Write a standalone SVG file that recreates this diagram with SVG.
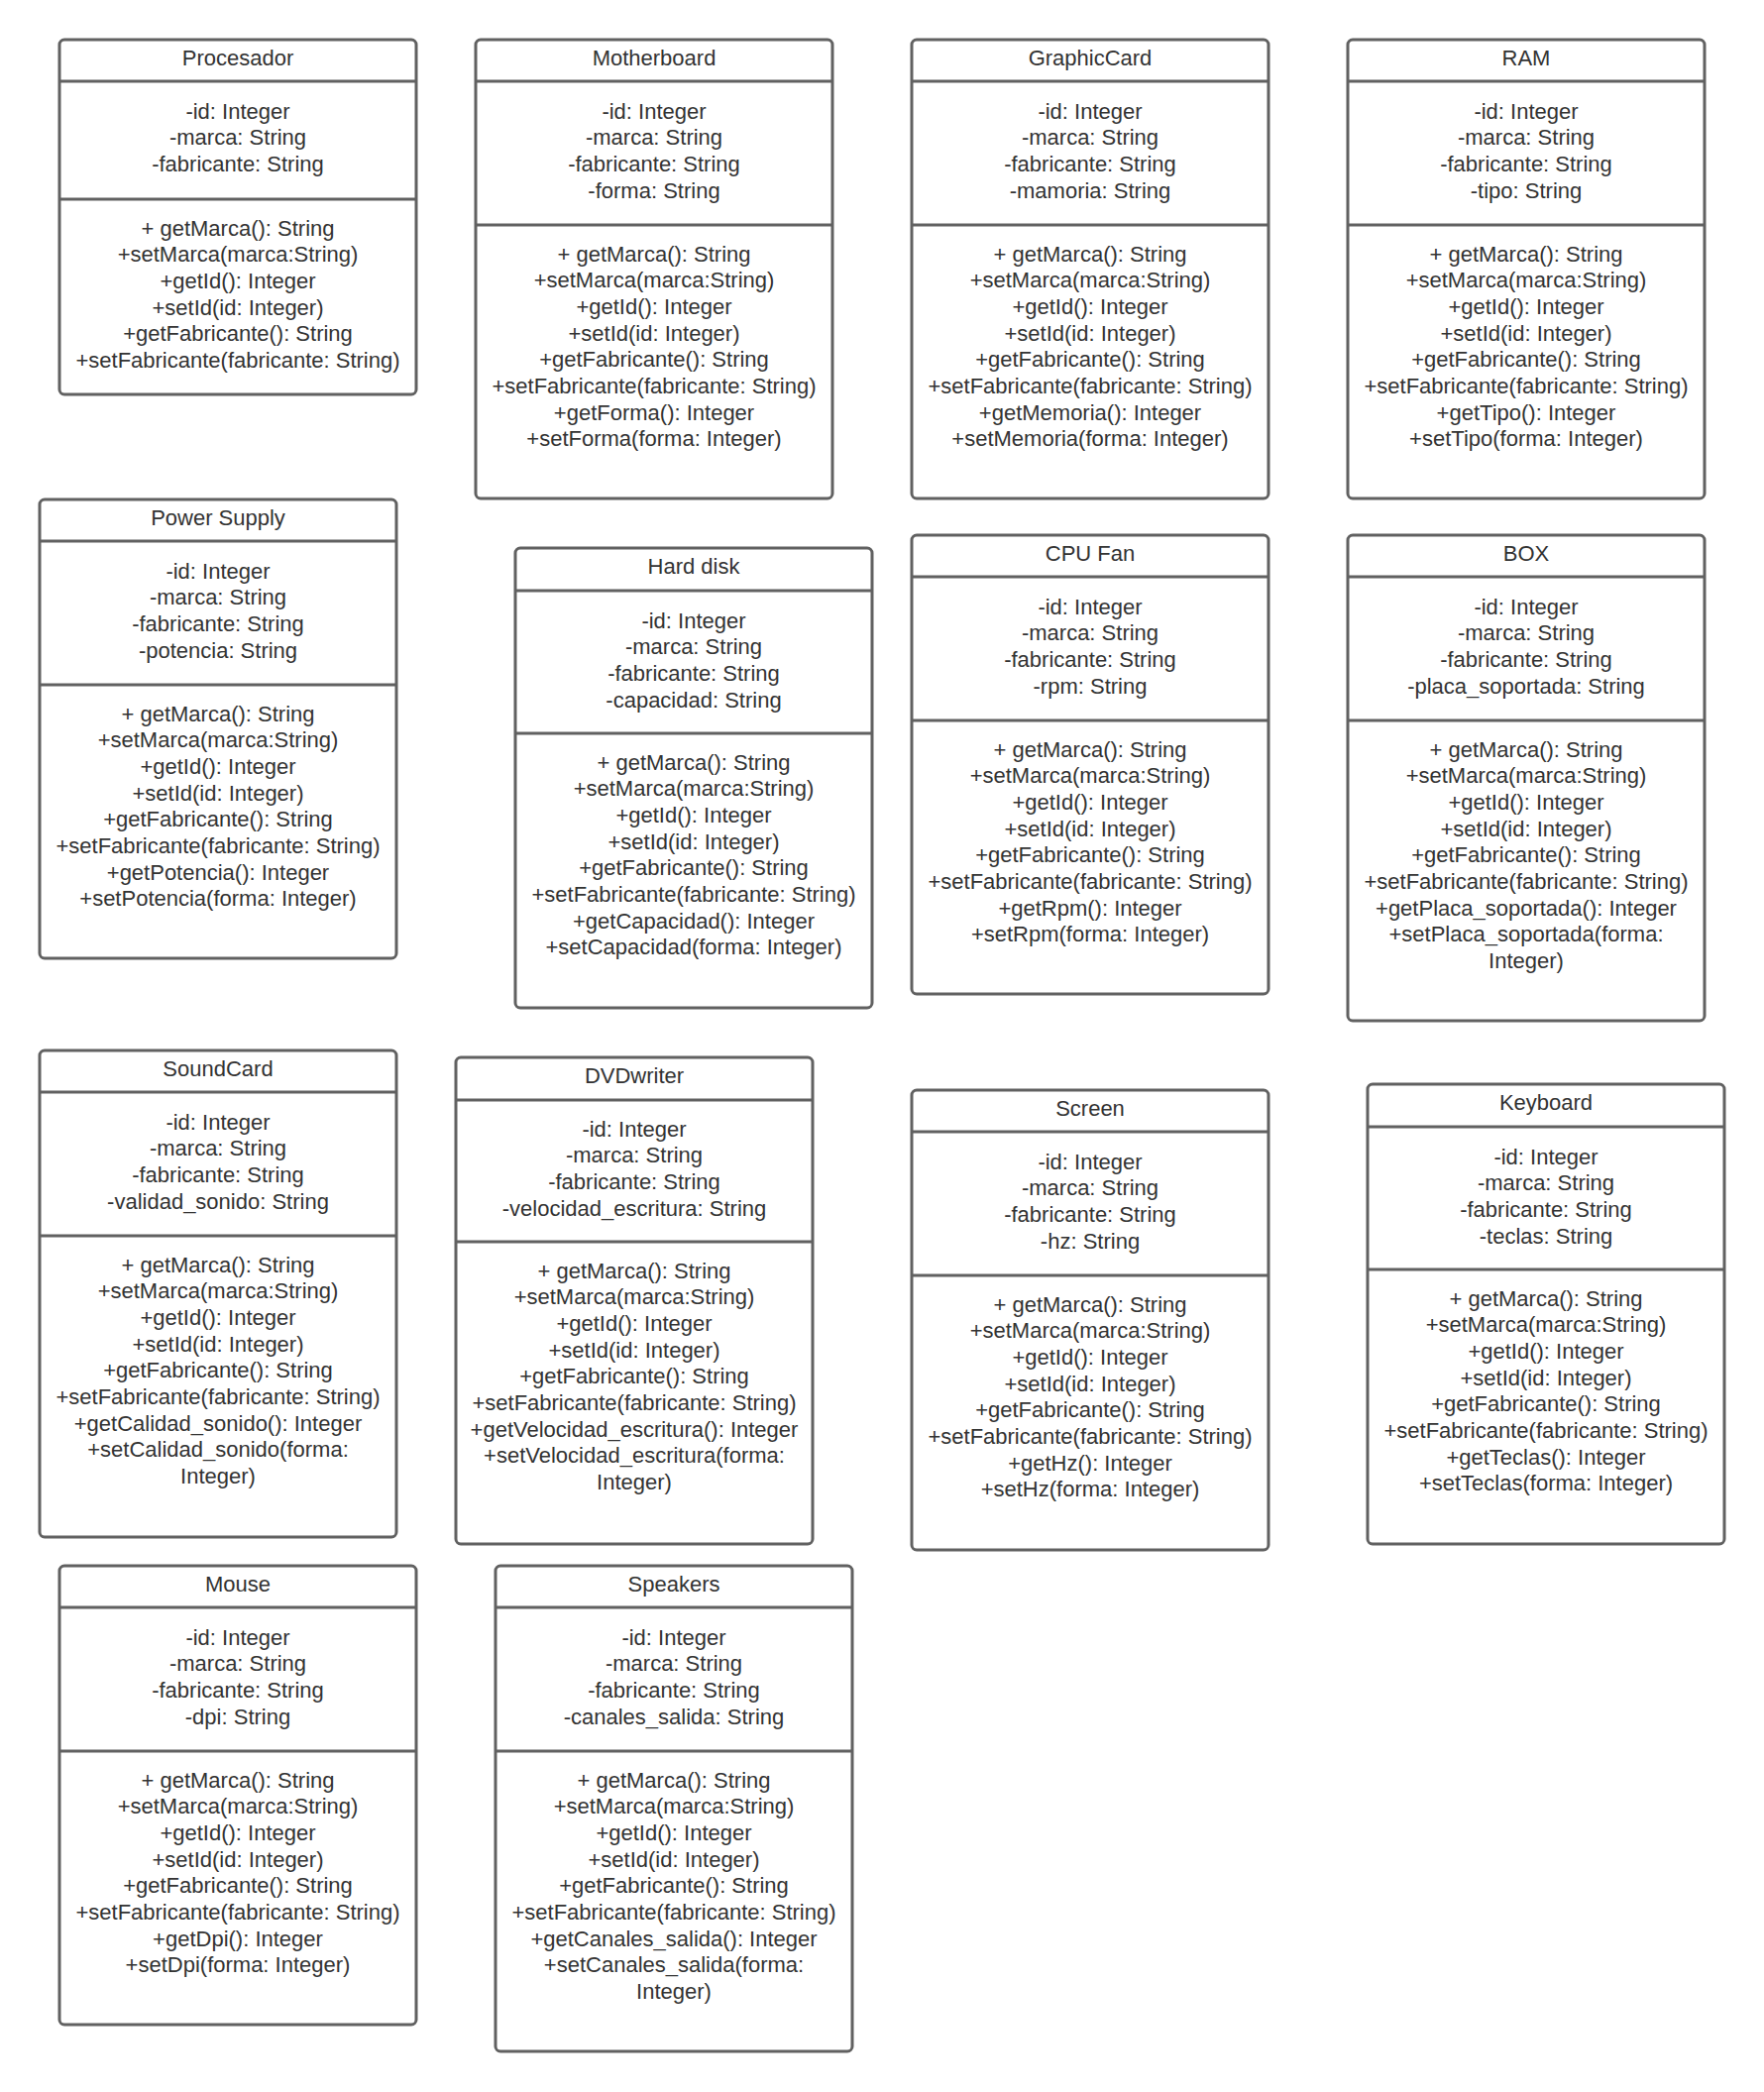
<svg xmlns="http://www.w3.org/2000/svg" width="1780" height="2111" viewBox="0 0 1780 2111">
<style>
.box{fill:#ffffff;stroke:#616161;stroke-width:3}
.sep{stroke:#616161;stroke-width:3}
text{font-family:"Liberation Sans",Arial,sans-serif;font-size:22px;fill:#333333;text-anchor:middle}
</style>
<rect x="0" y="0" width="1780" height="2111" fill="#ffffff"/>
<g id="connectors"></g>

<g id="procesador">
<rect class="box" x="60" y="40" width="360" height="358" rx="5"/>
<line class="sep" x1="60" y1="82" x2="420" y2="82"/>
<line class="sep" x1="60" y1="201" x2="420" y2="201"/>
<text x="240" y="65.5">Procesador</text>
<text x="240" y="119.5"><tspan x="240">-id: Integer</tspan><tspan x="240" dy="26.67">-marca: String</tspan><tspan x="240" dy="26.67">-fabricante: String</tspan></text>
<text x="240" y="237.5"><tspan x="240">+ getMarca(): String</tspan><tspan x="240" dy="26.67">+setMarca(marca:String)</tspan><tspan x="240" dy="26.67">+getId(): Integer</tspan><tspan x="240" dy="26.67">+setId(id: Integer)</tspan><tspan x="240" dy="26.67">+getFabricante(): String</tspan><tspan x="240" dy="26.67">+setFabricante(fabricante: String)</tspan></text>
</g>

<g id="motherboard">
<rect class="box" x="480" y="40" width="360" height="463" rx="5"/>
<line class="sep" x1="480" y1="82" x2="840" y2="82"/>
<line class="sep" x1="480" y1="227" x2="840" y2="227"/>
<text x="660" y="65.5">Motherboard</text>
<text x="660" y="119.5"><tspan x="660">-id: Integer</tspan><tspan x="660" dy="26.67">-marca: String</tspan><tspan x="660" dy="26.67">-fabricante: String</tspan><tspan x="660" dy="26.67">-forma: String</tspan></text>
<text x="660" y="263.5"><tspan x="660">+ getMarca(): String</tspan><tspan x="660" dy="26.67">+setMarca(marca:String)</tspan><tspan x="660" dy="26.67">+getId(): Integer</tspan><tspan x="660" dy="26.67">+setId(id: Integer)</tspan><tspan x="660" dy="26.67">+getFabricante(): String</tspan><tspan x="660" dy="26.67">+setFabricante(fabricante: String)</tspan><tspan x="660" dy="26.67">+getForma(): Integer</tspan><tspan x="660" dy="26.67">+setForma(forma: Integer)</tspan></text>
</g>

<g id="graphiccard">
<rect class="box" x="920" y="40" width="360" height="463" rx="5"/>
<line class="sep" x1="920" y1="82" x2="1280" y2="82"/>
<line class="sep" x1="920" y1="227" x2="1280" y2="227"/>
<text x="1100" y="65.5">GraphicCard</text>
<text x="1100" y="119.5"><tspan x="1100">-id: Integer</tspan><tspan x="1100" dy="26.67">-marca: String</tspan><tspan x="1100" dy="26.67">-fabricante: String</tspan><tspan x="1100" dy="26.67">-mamoria: String</tspan></text>
<text x="1100" y="263.5"><tspan x="1100">+ getMarca(): String</tspan><tspan x="1100" dy="26.67">+setMarca(marca:String)</tspan><tspan x="1100" dy="26.67">+getId(): Integer</tspan><tspan x="1100" dy="26.67">+setId(id: Integer)</tspan><tspan x="1100" dy="26.67">+getFabricante(): String</tspan><tspan x="1100" dy="26.67">+setFabricante(fabricante: String)</tspan><tspan x="1100" dy="26.67">+getMemoria(): Integer</tspan><tspan x="1100" dy="26.67">+setMemoria(forma: Integer)</tspan></text>
</g>

<g id="ram">
<rect class="box" x="1360" y="40" width="360" height="463" rx="5"/>
<line class="sep" x1="1360" y1="82" x2="1720" y2="82"/>
<line class="sep" x1="1360" y1="227" x2="1720" y2="227"/>
<text x="1540" y="65.5">RAM</text>
<text x="1540" y="119.5"><tspan x="1540">-id: Integer</tspan><tspan x="1540" dy="26.67">-marca: String</tspan><tspan x="1540" dy="26.67">-fabricante: String</tspan><tspan x="1540" dy="26.67">-tipo: String</tspan></text>
<text x="1540" y="263.5"><tspan x="1540">+ getMarca(): String</tspan><tspan x="1540" dy="26.67">+setMarca(marca:String)</tspan><tspan x="1540" dy="26.67">+getId(): Integer</tspan><tspan x="1540" dy="26.67">+setId(id: Integer)</tspan><tspan x="1540" dy="26.67">+getFabricante(): String</tspan><tspan x="1540" dy="26.67">+setFabricante(fabricante: String)</tspan><tspan x="1540" dy="26.67">+getTipo(): Integer</tspan><tspan x="1540" dy="26.67">+setTipo(forma: Integer)</tspan></text>
</g>

<g id="power-supply">
<rect class="box" x="40" y="504" width="360" height="463" rx="5"/>
<line class="sep" x1="40" y1="546" x2="400" y2="546"/>
<line class="sep" x1="40" y1="691" x2="400" y2="691"/>
<text x="220" y="529.5">Power Supply</text>
<text x="220" y="583.5"><tspan x="220">-id: Integer</tspan><tspan x="220" dy="26.67">-marca: String</tspan><tspan x="220" dy="26.67">-fabricante: String</tspan><tspan x="220" dy="26.67">-potencia: String</tspan></text>
<text x="220" y="727.5"><tspan x="220">+ getMarca(): String</tspan><tspan x="220" dy="26.67">+setMarca(marca:String)</tspan><tspan x="220" dy="26.67">+getId(): Integer</tspan><tspan x="220" dy="26.67">+setId(id: Integer)</tspan><tspan x="220" dy="26.67">+getFabricante(): String</tspan><tspan x="220" dy="26.67">+setFabricante(fabricante: String)</tspan><tspan x="220" dy="26.67">+getPotencia(): Integer</tspan><tspan x="220" dy="26.67">+setPotencia(forma: Integer)</tspan></text>
</g>

<g id="hard-disk">
<rect class="box" x="520" y="553" width="360" height="464" rx="5"/>
<line class="sep" x1="520" y1="596" x2="880" y2="596"/>
<line class="sep" x1="520" y1="740" x2="880" y2="740"/>
<text x="700" y="578.5">Hard disk</text>
<text x="700" y="633.5"><tspan x="700">-id: Integer</tspan><tspan x="700" dy="26.67">-marca: String</tspan><tspan x="700" dy="26.67">-fabricante: String</tspan><tspan x="700" dy="26.67">-capacidad: String</tspan></text>
<text x="700" y="776.5"><tspan x="700">+ getMarca(): String</tspan><tspan x="700" dy="26.67">+setMarca(marca:String)</tspan><tspan x="700" dy="26.67">+getId(): Integer</tspan><tspan x="700" dy="26.67">+setId(id: Integer)</tspan><tspan x="700" dy="26.67">+getFabricante(): String</tspan><tspan x="700" dy="26.67">+setFabricante(fabricante: String)</tspan><tspan x="700" dy="26.67">+getCapacidad(): Integer</tspan><tspan x="700" dy="26.67">+setCapacidad(forma: Integer)</tspan></text>
</g>

<g id="cpu-fan">
<rect class="box" x="920" y="540" width="360" height="463" rx="5"/>
<line class="sep" x1="920" y1="582" x2="1280" y2="582"/>
<line class="sep" x1="920" y1="727" x2="1280" y2="727"/>
<text x="1100" y="565.5">CPU Fan</text>
<text x="1100" y="619.5"><tspan x="1100">-id: Integer</tspan><tspan x="1100" dy="26.67">-marca: String</tspan><tspan x="1100" dy="26.67">-fabricante: String</tspan><tspan x="1100" dy="26.67">-rpm: String</tspan></text>
<text x="1100" y="763.5"><tspan x="1100">+ getMarca(): String</tspan><tspan x="1100" dy="26.67">+setMarca(marca:String)</tspan><tspan x="1100" dy="26.67">+getId(): Integer</tspan><tspan x="1100" dy="26.67">+setId(id: Integer)</tspan><tspan x="1100" dy="26.67">+getFabricante(): String</tspan><tspan x="1100" dy="26.67">+setFabricante(fabricante: String)</tspan><tspan x="1100" dy="26.67">+getRpm(): Integer</tspan><tspan x="1100" dy="26.67">+setRpm(forma: Integer)</tspan></text>
</g>

<g id="box">
<rect class="box" x="1360" y="540" width="360" height="490" rx="5"/>
<line class="sep" x1="1360" y1="582" x2="1720" y2="582"/>
<line class="sep" x1="1360" y1="727" x2="1720" y2="727"/>
<text x="1540" y="565.5">BOX</text>
<text x="1540" y="619.5"><tspan x="1540">-id: Integer</tspan><tspan x="1540" dy="26.67">-marca: String</tspan><tspan x="1540" dy="26.67">-fabricante: String</tspan><tspan x="1540" dy="26.67">-placa_soportada: String</tspan></text>
<text x="1540" y="763.5"><tspan x="1540">+ getMarca(): String</tspan><tspan x="1540" dy="26.67">+setMarca(marca:String)</tspan><tspan x="1540" dy="26.67">+getId(): Integer</tspan><tspan x="1540" dy="26.67">+setId(id: Integer)</tspan><tspan x="1540" dy="26.67">+getFabricante(): String</tspan><tspan x="1540" dy="26.67">+setFabricante(fabricante: String)</tspan><tspan x="1540" dy="26.67">+getPlaca_soportada(): Integer</tspan><tspan x="1540" dy="26.67">+setPlaca_soportada(forma:</tspan><tspan x="1540" dy="26.67">Integer)</tspan></text>
</g>

<g id="soundcard">
<rect class="box" x="40" y="1060" width="360" height="491" rx="5"/>
<line class="sep" x1="40" y1="1102" x2="400" y2="1102"/>
<line class="sep" x1="40" y1="1247" x2="400" y2="1247"/>
<text x="220" y="1085.5">SoundCard</text>
<text x="220" y="1139.5"><tspan x="220">-id: Integer</tspan><tspan x="220" dy="26.67">-marca: String</tspan><tspan x="220" dy="26.67">-fabricante: String</tspan><tspan x="220" dy="26.67">-validad_sonido: String</tspan></text>
<text x="220" y="1283.5"><tspan x="220">+ getMarca(): String</tspan><tspan x="220" dy="26.67">+setMarca(marca:String)</tspan><tspan x="220" dy="26.67">+getId(): Integer</tspan><tspan x="220" dy="26.67">+setId(id: Integer)</tspan><tspan x="220" dy="26.67">+getFabricante(): String</tspan><tspan x="220" dy="26.67">+setFabricante(fabricante: String)</tspan><tspan x="220" dy="26.67">+getCalidad_sonido(): Integer</tspan><tspan x="220" dy="26.67">+setCalidad_sonido(forma:</tspan><tspan x="220" dy="26.67">Integer)</tspan></text>
</g>

<g id="dvdwriter">
<rect class="box" x="460" y="1067" width="360" height="491" rx="5"/>
<line class="sep" x1="460" y1="1110" x2="820" y2="1110"/>
<line class="sep" x1="460" y1="1253" x2="820" y2="1253"/>
<text x="640" y="1092.5">DVDwriter</text>
<text x="640" y="1146.5"><tspan x="640">-id: Integer</tspan><tspan x="640" dy="26.67">-marca: String</tspan><tspan x="640" dy="26.67">-fabricante: String</tspan><tspan x="640" dy="26.67">-velocidad_escritura: String</tspan></text>
<text x="640" y="1289.5"><tspan x="640">+ getMarca(): String</tspan><tspan x="640" dy="26.67">+setMarca(marca:String)</tspan><tspan x="640" dy="26.67">+getId(): Integer</tspan><tspan x="640" dy="26.67">+setId(id: Integer)</tspan><tspan x="640" dy="26.67">+getFabricante(): String</tspan><tspan x="640" dy="26.67">+setFabricante(fabricante: String)</tspan><tspan x="640" dy="26.67">+getVelocidad_escritura(): Integer</tspan><tspan x="640" dy="26.67">+setVelocidad_escritura(forma:</tspan><tspan x="640" dy="26.67">Integer)</tspan></text>
</g>

<g id="screen">
<rect class="box" x="920" y="1100" width="360" height="464" rx="5"/>
<line class="sep" x1="920" y1="1142" x2="1280" y2="1142"/>
<line class="sep" x1="920" y1="1287" x2="1280" y2="1287"/>
<text x="1100" y="1125.5">Screen</text>
<text x="1100" y="1179.5"><tspan x="1100">-id: Integer</tspan><tspan x="1100" dy="26.67">-marca: String</tspan><tspan x="1100" dy="26.67">-fabricante: String</tspan><tspan x="1100" dy="26.67">-hz: String</tspan></text>
<text x="1100" y="1323.5"><tspan x="1100">+ getMarca(): String</tspan><tspan x="1100" dy="26.67">+setMarca(marca:String)</tspan><tspan x="1100" dy="26.67">+getId(): Integer</tspan><tspan x="1100" dy="26.67">+setId(id: Integer)</tspan><tspan x="1100" dy="26.67">+getFabricante(): String</tspan><tspan x="1100" dy="26.67">+setFabricante(fabricante: String)</tspan><tspan x="1100" dy="26.67">+getHz(): Integer</tspan><tspan x="1100" dy="26.67">+setHz(forma: Integer)</tspan></text>
</g>

<g id="keyboard">
<rect class="box" x="1380" y="1094" width="360" height="464" rx="5"/>
<line class="sep" x1="1380" y1="1137" x2="1740" y2="1137"/>
<line class="sep" x1="1380" y1="1281" x2="1740" y2="1281"/>
<text x="1560" y="1119.5">Keyboard</text>
<text x="1560" y="1174.5"><tspan x="1560">-id: Integer</tspan><tspan x="1560" dy="26.67">-marca: String</tspan><tspan x="1560" dy="26.67">-fabricante: String</tspan><tspan x="1560" dy="26.67">-teclas: String</tspan></text>
<text x="1560" y="1317.5"><tspan x="1560">+ getMarca(): String</tspan><tspan x="1560" dy="26.67">+setMarca(marca:String)</tspan><tspan x="1560" dy="26.67">+getId(): Integer</tspan><tspan x="1560" dy="26.67">+setId(id: Integer)</tspan><tspan x="1560" dy="26.67">+getFabricante(): String</tspan><tspan x="1560" dy="26.67">+setFabricante(fabricante: String)</tspan><tspan x="1560" dy="26.67">+getTeclas(): Integer</tspan><tspan x="1560" dy="26.67">+setTeclas(forma: Integer)</tspan></text>
</g>

<g id="mouse">
<rect class="box" x="60" y="1580" width="360" height="463" rx="5"/>
<line class="sep" x1="60" y1="1622" x2="420" y2="1622"/>
<line class="sep" x1="60" y1="1767" x2="420" y2="1767"/>
<text x="240" y="1605.5">Mouse</text>
<text x="240" y="1659.5"><tspan x="240">-id: Integer</tspan><tspan x="240" dy="26.67">-marca: String</tspan><tspan x="240" dy="26.67">-fabricante: String</tspan><tspan x="240" dy="26.67">-dpi: String</tspan></text>
<text x="240" y="1803.5"><tspan x="240">+ getMarca(): String</tspan><tspan x="240" dy="26.67">+setMarca(marca:String)</tspan><tspan x="240" dy="26.67">+getId(): Integer</tspan><tspan x="240" dy="26.67">+setId(id: Integer)</tspan><tspan x="240" dy="26.67">+getFabricante(): String</tspan><tspan x="240" dy="26.67">+setFabricante(fabricante: String)</tspan><tspan x="240" dy="26.67">+getDpi(): Integer</tspan><tspan x="240" dy="26.67">+setDpi(forma: Integer)</tspan></text>
</g>

<g id="speakers">
<rect class="box" x="500" y="1580" width="360" height="490" rx="5"/>
<line class="sep" x1="500" y1="1622" x2="860" y2="1622"/>
<line class="sep" x1="500" y1="1767" x2="860" y2="1767"/>
<text x="680" y="1605.5">Speakers</text>
<text x="680" y="1659.5"><tspan x="680">-id: Integer</tspan><tspan x="680" dy="26.67">-marca: String</tspan><tspan x="680" dy="26.67">-fabricante: String</tspan><tspan x="680" dy="26.67">-canales_salida: String</tspan></text>
<text x="680" y="1803.5"><tspan x="680">+ getMarca(): String</tspan><tspan x="680" dy="26.67">+setMarca(marca:String)</tspan><tspan x="680" dy="26.67">+getId(): Integer</tspan><tspan x="680" dy="26.67">+setId(id: Integer)</tspan><tspan x="680" dy="26.67">+getFabricante(): String</tspan><tspan x="680" dy="26.67">+setFabricante(fabricante: String)</tspan><tspan x="680" dy="26.67">+getCanales_salida(): Integer</tspan><tspan x="680" dy="26.67">+setCanales_salida(forma:</tspan><tspan x="680" dy="26.67">Integer)</tspan></text>
</g>
</svg>
